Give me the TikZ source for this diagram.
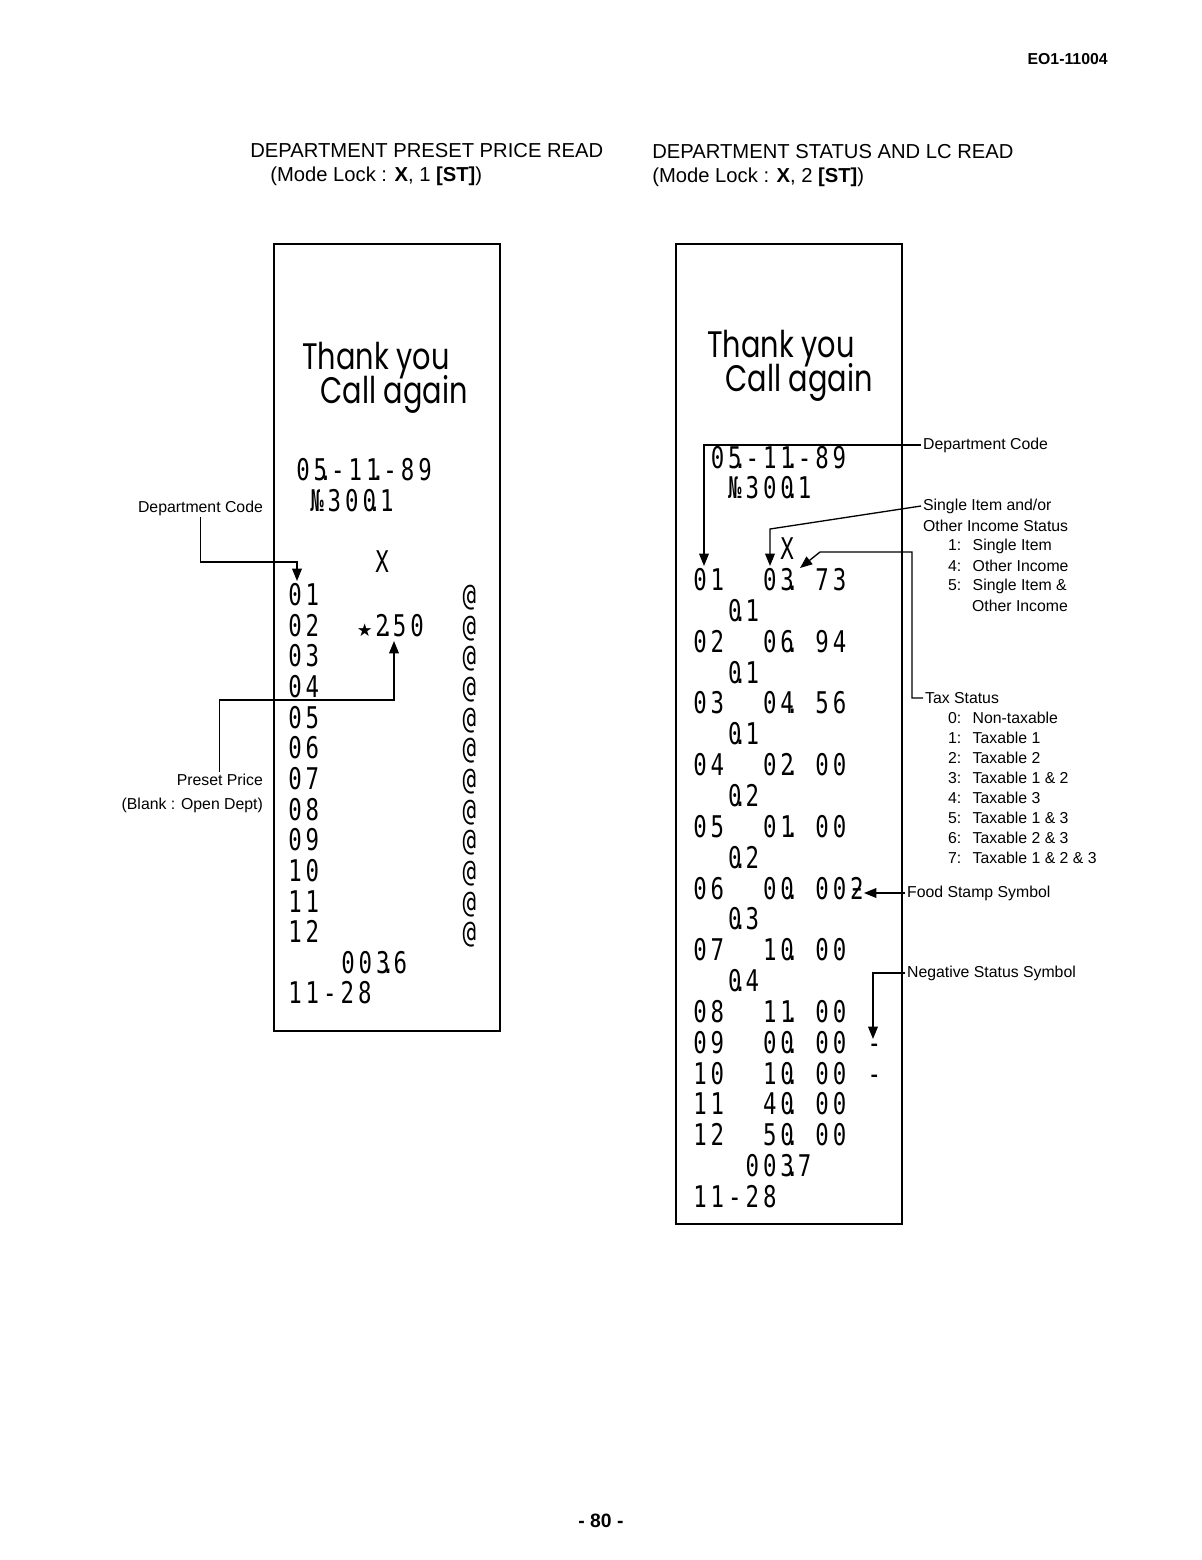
\documentclass[tikz,border=0pt]{standalone}
\usepackage{fontspec}
\usepackage{graphicx}
\setmainfont{Liberation Sans}
\newfontfamily\rcptfont{DejaVu Sans Mono}[FakeStretch=0.75]
\newfontfamily\thxfont{Poppins}[FakeStretch=0.78]
\newfontfamily\symfont{DejaVu Sans}
\usetikzlibrary{arrows.meta}
% one printer cell per character, a dot sits on the cell boundary
\def\pdotch{.}
\def\pstarch{*}
\newcommand\pcell{%
  \ifx\pc\pdotch\kern-2pt\hbox to 0pt{\hss.\hss}\kern2pt%
  \else\ifx\pc\pstarch\makebox[9.92pt][c]{\symfont\fontsize{10}{10}\selectfont ★}%
  \else\makebox[9.92pt][c]{\pc}\fi\fi}
\makeatletter
\newcommand\prow[1]{\@tfor\pc:=#1\do{\pcell}}
\makeatother

\begin{document}
\begin{tikzpicture}[x=0.02cm, y=-0.02cm,
    rcptbox/.style={line width=1.6pt},
    rc/.style={font=\rcptfont\fontsize{17}{18}\selectfont, anchor=west, inner sep=0pt, text height=12pt, text depth=0pt},
    thx/.style={font=\thxfont\fontsize{21}{23}\selectfont, anchor=west, inner sep=0pt, text depth=0pt},
    ttl/.style={font=\fontsize{11.5}{13}\selectfont, anchor=west, inner sep=0pt},
    note/.style={font=\fontsize{9}{10}\selectfont, anchor=west, inner sep=1pt},
    conn/.style={line width=0.75pt},
    tip/.style={-{Triangle[length=7pt,width=5.5pt]}}
]
    \useasboundingbox (0,0) rectangle (1202,1560);

    % Page header and titles
    \node[font=\bfseries\fontsize{9}{10}\selectfont, anchor=east, inner sep=0pt] (docno) at (1108,59) {EO1-11004};
    \node[ttl] (ltitle) at (250,151) {DEPARTMENT PRESET PRICE READ};
    \node[ttl] (lmode) at (270,176) {(Mode Lock : \textbf{X}, 1 \textbf{[ST]})};
    \node[ttl] (rtitle) at (652,152) {DEPARTMENT STATUS AND LC READ};
    \node[ttl] (rmode) at (652,177) {(Mode Lock : \textbf{X}, 2 \textbf{[ST]})};

    % Left receipt box
    \draw[rcptbox] (274,244) rectangle (500,1031);
    \node[thx] (lthank) at (302,356) {Thank you};
    \node[thx] (lcall) at (320,389) {Call again};
    \node[rc] (ldate) at (294,470) {\prow{05.-11.-89}};
    \node[rc] (lno) at (308,501) {\prow{№300.1}};
    \node[rc] (lx) at (286,562) {\prow{~~~~~X}};
    \node[rc] (l01) at (286,595) {\prow{01~~~~~~~~@}};
    \node[rc] (l02) at (286,626) {\prow{02~~*2.50~~@}};
    \node[rc] (l03) at (286,656) {\prow{03~~~~~~~~@}};
    \node[rc] (l04) at (286,687) {\prow{04~~~~~~~~@}};
    \node[rc] (l05) at (286,718) {\prow{05~~~~~~~~@}};
    \node[rc] (l06) at (286,748) {\prow{06~~~~~~~~@}};
    \node[rc] (l07) at (286,779) {\prow{07~~~~~~~~@}};
    \node[rc] (l08) at (286,810) {\prow{08~~~~~~~~@}};
    \node[rc] (l09) at (286,840) {\prow{09~~~~~~~~@}};
    \node[rc] (l10) at (286,871) {\prow{10~~~~~~~~@}};
    \node[rc] (l11) at (286,902) {\prow{11~~~~~~~~@}};
    \node[rc] (l12) at (286,932) {\prow{12~~~~~~~~@}};
    \node[rc] (lcnt) at (339,963) {\prow{003.6}};
    \node[rc] (ltime) at (286,993) {\prow{11-28}};

    % Left notes
    \node[note, anchor=east] (ldept) at (265,508) {Department Code};
    \node[note, anchor=east] (lpre) at (265,780) {Preset Price};
    \node[note, anchor=east] (lblank) at (265,805) {(Blank : Open Dept)};
    \coordinate (ldbend) at (297,562);
    \coordinate (ldtip) at (297,581);
    \coordinate (lpbend) at (394,700);
    \coordinate (lptip) at (394,641);
    \draw[conn, tip] (ldept.south) |- (ldbend) -- (ldtip);
    \draw[conn, tip] (lpre.north) |- (lpbend) -- (lptip);

    % Right receipt box
    \draw[rcptbox] (676,244) rectangle (902,1224);
    \node[thx] (rthank) at (707,344) {Thank you};
    \node[thx] (rcall) at (725,377) {Call again};
    \node[rc] (rdate) at (691,458) {\prow{~05.-11.-89}};
    \node[rc] (rno) at (691,488) {\prow{~~№300.1}};
    \node[rc] (rx) at (691,549) {\prow{~~~~~X}};
    \node[rc] (r01) at (691,580) {\prow{01~~03.~73}};
    \node[rc] (r01b) at (691,611) {\prow{~~0.1}};
    \node[rc] (r02) at (691,642) {\prow{02~~06.~94}};
    \node[rc] (r02b) at (691,673) {\prow{~~0.1}};
    \node[rc] (r03) at (691,703) {\prow{03~~04.~56}};
    \node[rc] (r03b) at (691,734) {\prow{~~0.1}};
    \node[rc] (r04) at (691,765) {\prow{04~~02.~00}};
    \node[rc] (r04b) at (691,796) {\prow{~~0.2}};
    \node[rc] (r05) at (691,827) {\prow{05~~01.~00}};
    \node[rc] (r05b) at (691,858) {\prow{~~0.2}};
    \node[rc] (r06) at (691,889) {\prow{06~~00.~00ƻ}};
    \node[rc] (r06b) at (691,919) {\prow{~~0.3}};
    \node[rc] (r07) at (691,950) {\prow{07~~10.~00}};
    \node[rc] (r07b) at (691,981) {\prow{~~0.4}};
    \node[rc] (r08) at (691,1012) {\prow{08~~11.~00}};
    \node[rc] (r09) at (691,1043) {\prow{09~~00.~00~-}};
    \node[rc] (r10) at (691,1074) {\prow{10~~10.~00~-}};
    \node[rc] (r11) at (691,1104) {\prow{11~~40.~00}};
    \node[rc] (r12) at (691,1135) {\prow{12~~50.~00}};
    \node[rc] (rcnt) at (691,1166) {\prow{~~~003.7}};
    \node[rc] (rtime) at (691,1197) {\prow{11-28}};

    % Right notes
    \node[note] (rdept) at (921,445) {Department Code};
    \node[note] (rsing) at (921,506) {Single Item and/or};
    \node[note] (rsing2) at (921,526) {Other Income Status};
    \node[note] (si1) at (946,546) {\makebox[14pt][l]{1:}Single Item};
    \node[note] (si4) at (946,566) {\makebox[14pt][l]{4:}Other Income};
    \node[note] (si5) at (946,586) {\makebox[14pt][l]{5:}Single Item \&};
    \node[note] (si5b) at (970,606) {Other Income};
    \node[note] (rtax) at (923,698) {Tax Status};
    \foreach \n/\t in {0/Non-taxable, 1/Taxable 1, 2/Taxable 2, 3/Taxable 1 \& 2,
        4/Taxable 3, 5/Taxable 1 \& 3, 6/Taxable 2 \& 3, 7/Taxable 1 \& 2 \& 3}
        \node[note] (tax\n) at (946,718+20*\n) {\makebox[14pt][l]{\n:}\t};
    \node[note] (rfood) at (905,893) {Food Stamp Symbol};
    \node[note] (rneg) at (905,973) {Negative Status Symbol};

    \coordinate (rdtip) at (704,566);
    \coordinate (rsbend) at (770,529);
    \coordinate (rstip) at (770,566);
    \coordinate (rtcorner) at (912,552);
    \coordinate (rtbend) at (820,552);
    \coordinate (rttip) at (800,568);
    \coordinate (rftip) at (864,893);
    \coordinate (rntip) at (873,1039);
    \draw[conn, tip] (rdept.west) -| (rdtip);
    \draw[conn, tip] (rsing.west) -- (rsbend) -- (rstip);
    \draw[conn, tip] (rtax.west) -| (rtcorner) -- (rtbend) -- (rttip);
    \draw[conn, tip] (rfood.west) -- (rftip);
    \draw[conn, tip] (rneg.west) -| (rntip);

    % Page number
    \node[font=\bfseries\fontsize{11}{12}\selectfont, inner sep=0pt] (pgno) at (601,1521) {- 80 -};
\end{tikzpicture}
\end{document}
